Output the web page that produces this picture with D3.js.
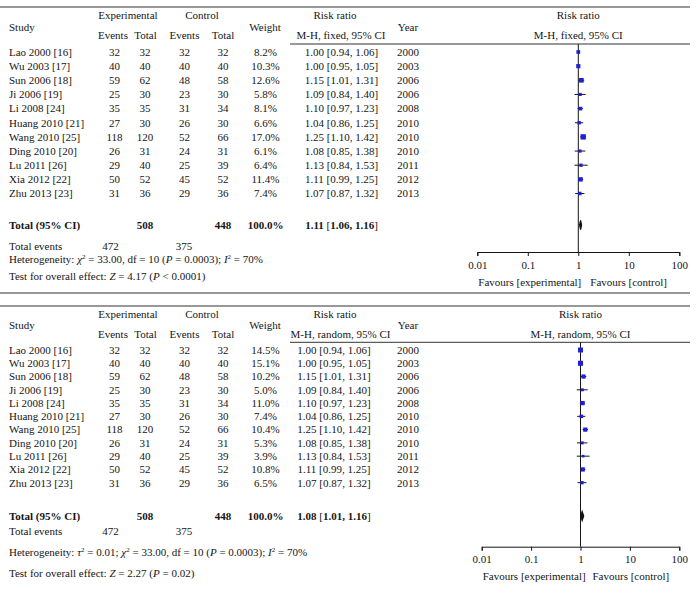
<!DOCTYPE html>
<html>
<head>
<meta charset="utf-8">
<script src="https://cdn.jsdelivr.net/npm/d3@7"></script>
<style>
  body { margin: 0; background: #fff; }
  svg { display: block; }
  text { font-family: "Liberation Serif", "Times New Roman", serif; font-size: 11px; fill: #151515; }
</style>
</head>
<body>
<svg width="696" height="593"></svg>
<script>
// 데이터
const studies = ["Lao 2000 [16]", "Wu 2003 [17]", "Sun 2006 [18]", "Ji 2006 [19]", "Li 2008 [24]",
  "Huang 2010 [21]", "Wang 2010 [25]", "Ding 2010 [20]", "Lu 2011 [26]", "Xia 2012 [22]", "Zhu 2013 [23]"];
const expEvents = [32, 40, 59, 25, 35, 27, 118, 26, 29, 50, 31];
const expTotal = [32, 40, 62, 30, 35, 30, 120, 31, 40, 52, 36];
const ctrlEvents = [32, 40, 48, 23, 31, 26, 52, 24, 25, 45, 29];
const ctrlTotal = [32, 40, 58, 30, 34, 30, 66, 31, 39, 52, 36];
const years = [2000, 2003, 2006, 2006, 2008, 2010, 2010, 2010, 2011, 2012, 2013];
const rr = [1.00, 1.00, 1.15, 1.09, 1.10, 1.04, 1.25, 1.08, 1.13, 1.11, 1.07];
const rrLow = [0.94, 0.95, 1.01, 0.84, 0.97, 0.86, 1.10, 0.85, 0.84, 0.99, 0.87];
const rrHigh = [1.06, 1.05, 1.31, 1.40, 1.23, 1.25, 1.42, 1.38, 1.53, 1.25, 1.32];
const fixedWeight = [8.2, 10.3, 12.6, 5.8, 8.1, 6.6, 17.0, 6.1, 6.4, 11.4, 7.4];
const randomWeight = [14.5, 15.1, 10.2, 5.0, 11.0, 7.4, 10.4, 5.3, 3.9, 10.8, 6.5];
const fixedTotal = [1.11, 1.06, 1.16];
const randomTotal = [1.08, 1.01, 1.16];
const tickValues = [0.01, 0.1, 1, 10, 100];
const tickLabels = ["0.01", "0.1", "1", "10", "100"];

const svg = d3.select("svg");
const fmt = d3.format(".2f");

// 한 패널 그리기
function drawPanel(p) {
  const g = svg.append("g");
  const y = d3.scaleLinear().domain([0, studies.length - 1]).range([p.row0, p.row10]);
  const x = d3.scaleLog().domain([0.01, 100]).range(p.axisRange);

  // 가로선
  g.append("line").attr("x1", 0).attr("x2", 690).attr("y1", p.topRule).attr("y2", p.topRule)
    .attr("stroke", "#333").attr("stroke-width", 1.2);
  g.append("line").attr("x1", 290).attr("x2", 690).attr("y1", p.headRule).attr("y2", p.headRule)
    .attr("stroke", "#333").attr("stroke-width", 1);
  if (p.bottomRule) {
    g.append("line").attr("x1", 0).attr("x2", 690).attr("y1", p.bottomRule).attr("y2", p.bottomRule)
      .attr("stroke", "#333").attr("stroke-width", 1.2);
  }

  function txt(tx, ty, s, anchor) {
    return g.append("text").attr("x", tx).attr("y", ty).attr("dy", "0.35em")
      .attr("text-anchor", anchor || "middle").text(s);
  }

  // 헤더
  txt(9, p.hMid, "Study", "start");
  txt(128, p.h1, "Experimental");
  txt(202, p.h1, "Control");
  txt(113, p.h2, "Events");
  txt(145.5, p.h2, "Total");
  txt(184.5, p.h2, "Events");
  txt(223, p.h2, "Total");
  txt(265, p.hMid, "Weight");
  txt(335, p.h1, "Risk ratio");
  txt(p.rrHeadX, p.h2, p.method);
  txt(408, p.hMid, "Year");
  txt(x(1), p.h1, "Risk ratio");
  txt(x(1), p.h2, p.method);

  // 행
  studies.forEach((s, i) => {
    const yy = y(i);
    txt(9, yy, s, "start");
    txt(114.5, yy, expEvents[i]);
    txt(145, yy, expTotal[i]);
    txt(184.5, yy, ctrlEvents[i]);
    txt(223, yy, ctrlTotal[i]);
    txt(265.5, yy, p.weights[i].toFixed(1) + "%");
    txt(p.rrX, yy, fmt(rr[i]) + " [" + fmt(rrLow[i]) + ", " + fmt(rrHigh[i]) + "]");
    txt(408, yy, years[i]);
  });

  // 합계 행
  txt(9, p.totalY, "Total (95% CI)", "start").attr("font-weight", "bold");
  txt(145, p.totalY, d3.sum(expTotal)).attr("font-weight", "bold");
  txt(223, p.totalY, d3.sum(ctrlTotal)).attr("font-weight", "bold");
  txt(265.5, p.totalY, "100.0%").attr("font-weight", "bold");
  const tt = txt(p.rrX, p.totalY, "");
  tt.append("tspan").attr("font-weight", "bold").text(fmt(p.total[0]) + " ");
  tt.append("tspan").text("[");
  tt.append("tspan").attr("font-weight", "bold").text(fmt(p.total[1]) + ", " + fmt(p.total[2]));
  tt.append("tspan").text("]");

  txt(9, p.eventsY, "Total events", "start");
  txt(110.5, p.eventsY, d3.sum(expEvents));
  txt(184, p.eventsY, d3.sum(ctrlEvents));

  // 이질성
  const het = txt(9, p.hetY, "", "start");
  p.het.forEach(part => {
    const t = het.append("tspan").text(part[0]);
    if (part[1] === "i") t.attr("font-style", "italic");
    if (part[1] === "sup") t.attr("baseline-shift", "super").attr("font-size", "7px");
  });
  const test = txt(9, p.testY, "", "start");
  p.test.forEach(part => {
    const t = test.append("tspan").text(part[0]);
    if (part[1] === "i") t.attr("font-style", "italic");
  });

  // 축
  const axis = d3.axisBottom(x).tickValues(tickValues)
    .tickFormat((d, i) => tickLabels[i]).tickSizeOuter(0).tickSize(4).tickPadding(5);
  const ax = g.append("g").attr("transform", `translate(0,${p.axisY})`).call(axis);
  ax.select(".domain").attr("stroke", "#151515");
  ax.selectAll(".tick line").attr("stroke", "#151515");
  ax.selectAll("text").attr("font-size", "11px").attr("font-family", null);

  // 기준선 x = 1
  g.append("line").attr("x1", x(1)).attr("x2", x(1)).attr("y1", p.headRule).attr("y2", p.axisY)
    .attr("stroke", "#151515").attr("stroke-width", 1);

  // 신뢰구간
  g.selectAll(".ci").data(studies).join("line")
    .attr("x1", (d, i) => x(rrLow[i])).attr("x2", (d, i) => x(rrHigh[i]))
    .attr("y1", (d, i) => y(i)).attr("y2", (d, i) => y(i))
    .attr("stroke", "#151515").attr("stroke-width", 1);

  // 가중치 상자
  g.selectAll(".box").data(studies).join("rect")
    .attr("x", (d, i) => x(rr[i]) - 0.65 * Math.sqrt(p.weights[i]))
    .attr("y", (d, i) => y(i) - 0.65 * Math.sqrt(p.weights[i]))
    .attr("width", (d, i) => 1.3 * Math.sqrt(p.weights[i]))
    .attr("height", (d, i) => 1.3 * Math.sqrt(p.weights[i]))
    .attr("fill", "#1f1fd6");

  // 다이아몬드
  const d = [[x(p.total[1]), p.totalY], [x(p.total[0]), p.totalY - 4.5],
             [x(p.total[2]), p.totalY], [x(p.total[0]), p.totalY + 4.5]];
  g.append("path").attr("d", "M" + d.join("L") + "Z")
    .attr("fill", "#111").attr("stroke", "#111").attr("stroke-width", 1.2);

  // 아래 라벨
  txt(p.axisRange[0] + 1, p.favY, "Favours [experimental]", "start");
  txt(x(1) + 12, p.favY, "Favours [control]", "start");
}

drawPanel({
  method: "M-H, fixed, 95% CI", weights: fixedWeight, total: fixedTotal,
  topRule: 7, h1: 15, hMid: 27, h2: 35, headRule: 44,
  row0: 52, row10: 193.5, totalY: 225, eventsY: 246, hetY: 259, testY: 276,
  axisY: 252, axisRange: [477.3, 679.3], favY: 282, bottomRule: 293,
  rrX: 341.5, rrHeadX: 341,
  het: [["Heterogeneity: "], ["χ", "i"], ["2", "sup"], [" = 33.00, df = 10 ("], ["P", "i"],
        [" = 0.0003); "], ["I", "i"], ["2", "sup"], [" = 70%"]],
  test: [["Test for overall effect: "], ["Z", "i"], [" = 4.17 ("], ["P", "i"], [" < 0.0001)"]]
});

drawPanel({
  method: "M-H, random, 95% CI", weights: randomWeight, total: randomTotal,
  topRule: 306, h1: 314.3, hMid: 325, h2: 334.3, headRule: 342.3,
  row0: 350, row10: 482.7, totalY: 516, eventsY: 530.7, hetY: 551.7, testY: 572.7,
  axisY: 546.7, axisRange: [481.7, 679.3], favY: 576, bottomRule: null,
  rrX: 334, rrHeadX: 340.5,
  het: [["Heterogeneity: "], ["τ", "i"], ["2", "sup"], [" = 0.01; "], ["χ", "i"], ["2", "sup"],
        [" = 33.00, df = 10 ("], ["P", "i"], [" = 0.0003); "], ["I", "i"], ["2", "sup"], [" = 70%"]],
  test: [["Test for overall effect: "], ["Z", "i"], [" = 2.27 ("], ["P", "i"], [" = 0.02)"]]
});
</script>
</body>
</html>
